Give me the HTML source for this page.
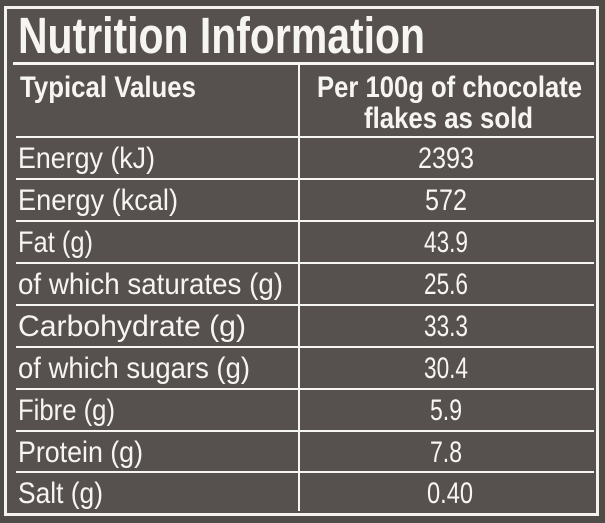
<!DOCTYPE html>
<html><head><style>html,body{margin:0;padding:0;background:#4f4b48}svg{display:block}</style></head>
<body>
<svg width="605" height="523" xmlns="http://www.w3.org/2000/svg" font-family="'Liberation Sans Narrow','Liberation Sans',sans-serif" fill="#f7f5f2">
<rect width="605" height="523" fill="#4f4b48"/>
<rect x="5.5" y="7.5" width="592" height="507" fill="#56514e" stroke="#f4f2ef" stroke-width="3"/>
<text x="18" y="53" font-size="51" font-weight="bold" textLength="407" lengthAdjust="spacingAndGlyphs">Nutrition Information</text>
<rect x="13" y="62" width="581" height="3"/>
<rect x="298" y="65" width="2" height="446"/>
<g>
<rect x="16" y="136" width="578" height="2"/>
<rect x="16" y="178" width="578" height="2"/>
<rect x="16" y="220" width="578" height="2"/>
<rect x="16" y="262" width="578" height="2"/>
<rect x="16" y="304" width="578" height="2"/>
<rect x="16" y="346" width="578" height="2"/>
<rect x="16" y="388" width="578" height="2"/>
<rect x="16" y="430" width="578" height="2"/>
<rect x="16" y="471" width="578" height="2"/>
</g>
<g font-weight="bold" font-size="30">
<text x="20" y="97" textLength="176" lengthAdjust="spacingAndGlyphs">Typical Values</text>
<text x="317" y="97" textLength="265" lengthAdjust="spacingAndGlyphs">Per 100g of chocolate</text>
<text x="364" y="128" textLength="169" lengthAdjust="spacingAndGlyphs">flakes as sold</text>
</g>
<g font-size="30">
<text x="18" y="168" textLength="137" lengthAdjust="spacingAndGlyphs">Energy (kJ)</text>
<text x="18" y="210" textLength="160" lengthAdjust="spacingAndGlyphs">Energy (kcal)</text>
<text x="18" y="252" textLength="75" lengthAdjust="spacingAndGlyphs">Fat (g)</text>
<text x="18" y="294" textLength="265" lengthAdjust="spacingAndGlyphs">of which saturates (g)</text>
<text x="18" y="336" textLength="228" lengthAdjust="spacingAndGlyphs">Carbohydrate (g)</text>
<text x="18" y="378" textLength="232" lengthAdjust="spacingAndGlyphs">of which sugars (g)</text>
<text x="18" y="420" textLength="97" lengthAdjust="spacingAndGlyphs">Fibre (g)</text>
<text x="18" y="462" textLength="125" lengthAdjust="spacingAndGlyphs">Protein (g)</text>
<text x="18" y="503" textLength="85" lengthAdjust="spacingAndGlyphs">Salt (g)</text>
</g>
<g font-size="30" text-anchor="middle">
<text x="446" y="168" textLength="56" lengthAdjust="spacingAndGlyphs">2393</text>
<text x="446" y="210" textLength="42" lengthAdjust="spacingAndGlyphs">572</text>
<text x="446" y="252" textLength="44" lengthAdjust="spacingAndGlyphs">43.9</text>
<text x="446" y="294" textLength="44" lengthAdjust="spacingAndGlyphs">25.6</text>
<text x="446" y="336" textLength="44" lengthAdjust="spacingAndGlyphs">33.3</text>
<text x="446" y="378" textLength="44" lengthAdjust="spacingAndGlyphs">30.4</text>
<text x="446" y="420" textLength="32" lengthAdjust="spacingAndGlyphs">5.9</text>
<text x="446" y="462" textLength="32" lengthAdjust="spacingAndGlyphs">7.8</text>
<text x="450" y="503" textLength="46" lengthAdjust="spacingAndGlyphs">0.40</text>
</g>
</svg>
</body></html>
